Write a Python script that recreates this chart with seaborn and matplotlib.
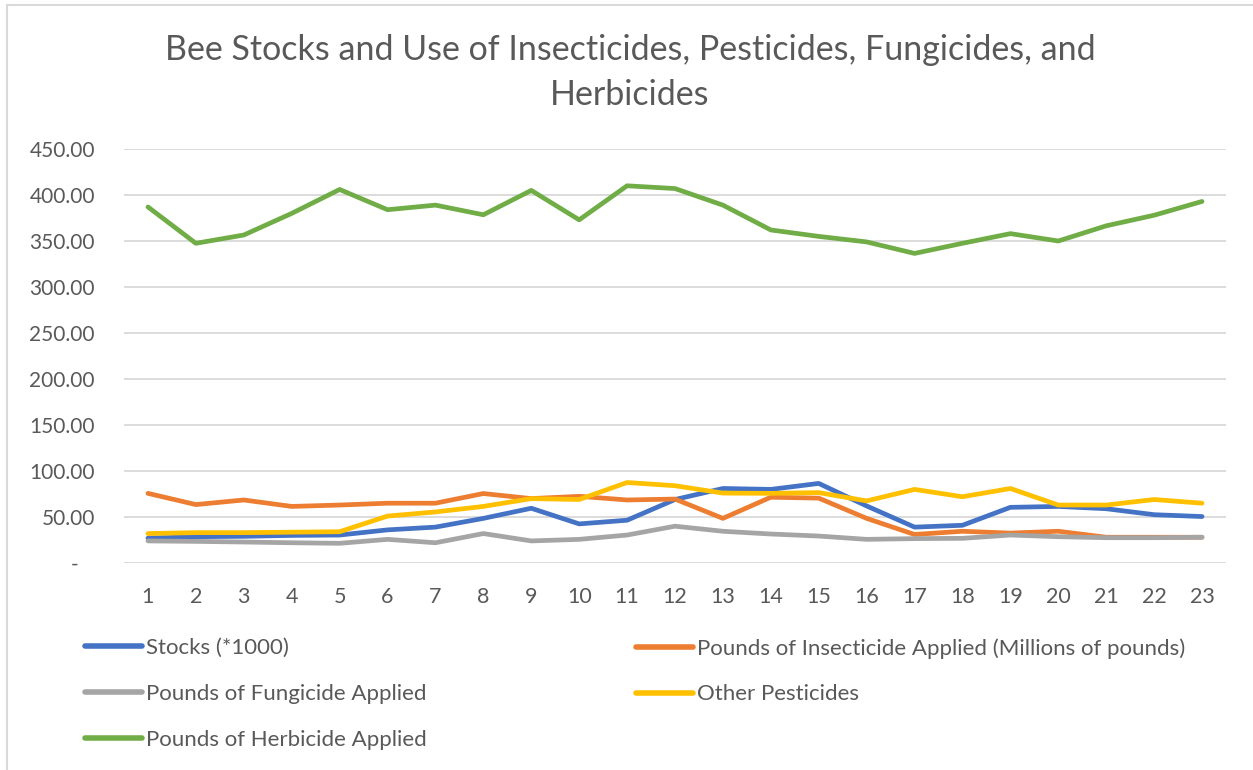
import matplotlib
matplotlib.use("Agg")
import matplotlib.pyplot as plt
from matplotlib.lines import Line2D
from matplotlib.ticker import FuncFormatter, MultipleLocator
import seaborn as sns
import pandas as pd

# ---- data ----
periods = list(range(1, 24))
stocks = [27, 28.6, 29, 30, 30.4, 36, 39, 48.5, 59.5, 42.5, 46.5, 69, 81, 80, 86.5, 62, 39, 41, 60.5, 61.5, 59, 52.5, 50.5]
insecticide = [75.7, 63.5, 68.5, 61.5, 63, 65, 65, 75.5, 70, 72.5, 68.5, 69.5, 48.5, 71.5, 70.5, 48.5, 31, 34.5, 32.5, 34.5, 28, 28, 28]
fungicide = [24, 23.5, 22.8, 22, 21.4, 25.7, 22, 32, 24, 25.7, 30.4, 40, 34.5, 31.5, 29.3, 25.7, 26.5, 26.8, 30.4, 28.6, 27.5, 27.5, 28]
other = [32, 33, 33, 33.5, 34, 51, 55.5, 61.5, 70, 69, 87.5, 84, 76, 75.7, 76.5, 67.5, 80, 72, 81, 63, 63, 69, 65]
herbicide = [387, 347.5, 356.5, 380, 406, 384, 389, 378.5, 405, 373, 410, 407, 389, 362, 355, 349, 336.5, 347.5, 358, 350, 366.5, 378, 393]

series_names = [
    "Stocks (*1000)",
    "Pounds of Insecticide Applied (Millions of pounds)",
    "Pounds of Fungicide Applied",
    "Other Pesticides",
    "Pounds of Herbicide Applied",
]
series_values = [stocks, insecticide, fungicide, other, herbicide]
colors = ["#4472C4", "#ED7D31", "#A5A5A5", "#FFC000", "#70AD47"]
title_lines = ["Bee Stocks and Use of Insecticides, Pesticides, Fungicides, and", "Herbicides"]

rows = []
for name, vals in zip(series_names, series_values):
    for p, v in zip(periods, vals):
        rows.append({"Period": p, "Value": v, "Series": name})
df = pd.DataFrame(rows)

sns.set_theme(style="white")
plt.rcParams["font.family"] = ["Lato", "DejaVu Sans"]
text_color = "#595959"

W, H = 1253, 770
fig = plt.figure(figsize=(W / 100, H / 100), dpi=100)
ax = fig.add_axes([124 / W, 1 - 563 / H, (1226 - 124) / W, (563 - 149) / H])

sns.lineplot(data=df, x="Period", y="Value", hue="Series", hue_order=series_names,
             palette=dict(zip(series_names, colors)), linewidth=3.4, legend=False,
             ax=ax, sort=False)
for ln in ax.lines:
    ln.set_solid_capstyle("round")
    ln.set_solid_joinstyle("round")
    ln.set_zorder(3)

ax.set_xlim(0.5, 23.5)
ax.set_ylim(0, 450)
ax.yaxis.set_major_locator(MultipleLocator(50))
ax.set_xticks(periods)
ax.yaxis.set_major_formatter(FuncFormatter(lambda v, pos: "-   " if abs(v) < 1e-9 else f"{v:.2f}"))
ax.grid(axis="y", color="#D9D9D9", linewidth=1.3)
ax.grid(axis="x", visible=False)
ax.set_axisbelow(True)
for s in ax.spines.values():
    s.set_visible(False)
ax.tick_params(axis="y", length=0, pad=21, labelsize=15, labelcolor=text_color)
ax.tick_params(axis="x", length=0, pad=17, labelsize=15.5, labelcolor=text_color)
ax.set_xlabel("")
ax.set_ylabel("")

# title
fig.text(630 / W, 1 - 50 / H, title_lines[0], ha="center", va="center", fontsize=24.5, color=text_color)
fig.text(630 / W, 1 - 95 / H, title_lines[1], ha="center", va="center", fontsize=24.5, color=text_color)

# legend (two columns placed like the reference)
def handle(c):
    return Line2D([0], [0], color=c, linewidth=4, solid_capstyle="round")

leg_kw = dict(frameon=False, fontsize=16, labelcolor=text_color, borderpad=0, borderaxespad=0,
              handlelength=2.55, handletextpad=0.18, labelspacing=1.16, loc="upper left",
              bbox_transform=fig.transFigure)
col1 = [0, 2, 4]
col2 = [1, 3]
fig.legend([handle(colors[i]) for i in col1], [series_names[i] for i in col1],
           bbox_to_anchor=(85 / W, 1 - 638 / H), **leg_kw)
fig.legend([handle(colors[i]) for i in col2], [series_names[i] for i in col2],
           bbox_to_anchor=(636 / W, 1 - 638 / H), **leg_kw)

# chart border (top and left visible in reference)
fig.add_artist(Line2D([7 / W, 1], [1 - 5 / H, 1 - 5 / H], color="#D9D9D9", linewidth=1.5, transform=fig.transFigure))
fig.add_artist(Line2D([7 / W, 7 / W], [0, 1 - 5 / H], color="#D9D9D9", linewidth=1.5, transform=fig.transFigure))

fig.savefig("out.png", dpi=100, facecolor="white")
